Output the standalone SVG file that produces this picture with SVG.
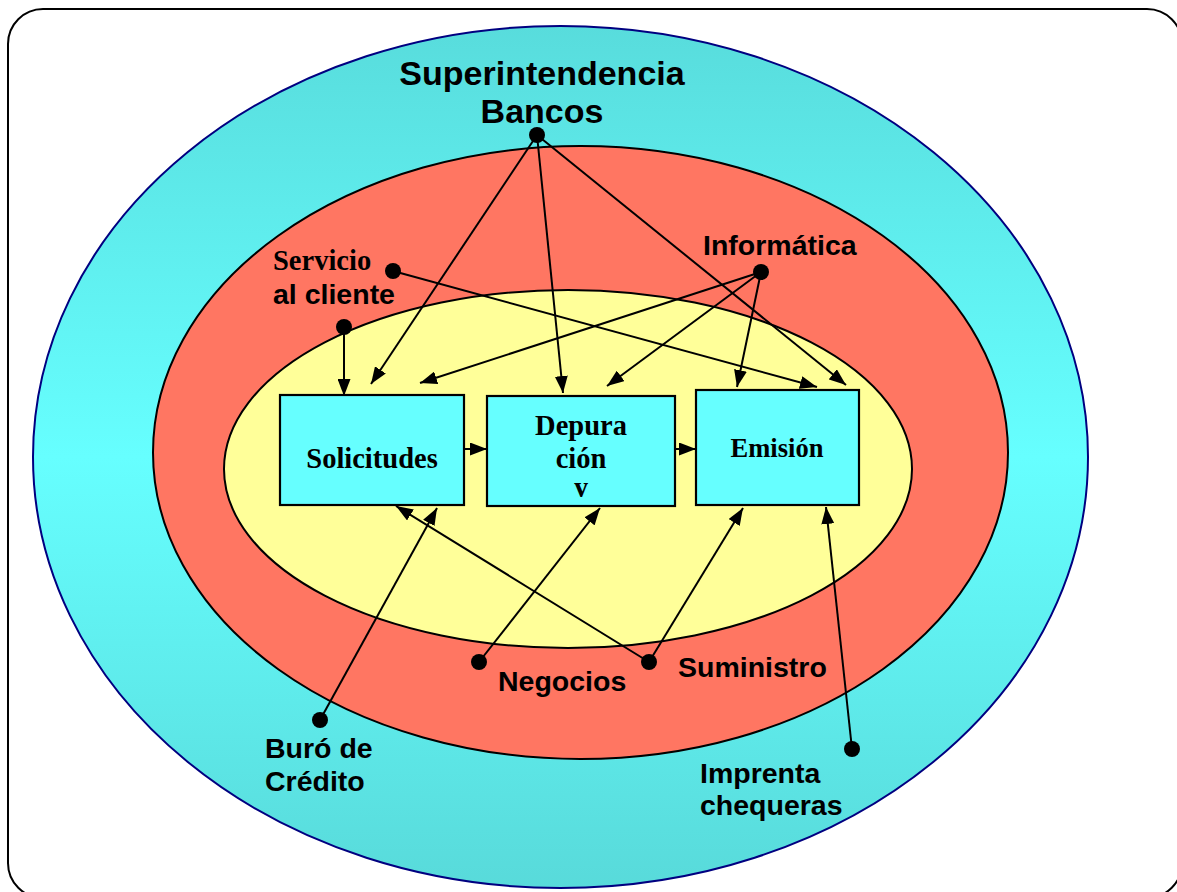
<svg xmlns="http://www.w3.org/2000/svg" width="1177" height="892" viewBox="0 0 1177 892">
<style>
.lbl{font-family:"Liberation Sans",Arial,sans-serif;font-weight:bold;font-size:28.5px;fill:#000}
.big{font-family:"Liberation Sans",Arial,sans-serif;font-weight:bold;font-size:34px;fill:#000}
.ser{font-family:"Liberation Serif","Times New Roman",serif;font-weight:bold;font-size:28.5px;fill:#000}
.box{fill:#66ffff;stroke:#000;stroke-width:2.2}
.dot{fill:#000}
.con line{stroke:#000;stroke-width:2;marker-end:url(#ah)}
</style>
<defs>
<linearGradient id="cy" x1="0" y1="0" x2="0" y2="1">
<stop offset="0" stop-color="#58dcdc"/>
<stop offset="0.5" stop-color="#66ffff"/>
<stop offset="1" stop-color="#58dada"/>
</linearGradient>
<marker id="ah" viewBox="0 0 17 13" refX="17" refY="6.5" markerWidth="17" markerHeight="13" markerUnits="userSpaceOnUse" orient="auto">
<path d="M0,0 L17,6.5 L0,13 Z" fill="#000"/>
</marker>
<clipPath id="clipdep"><rect x="487" y="396" width="188" height="101"/></clipPath>
</defs>
<rect x="8" y="9" width="1174" height="889" rx="35" ry="35" fill="#fff" stroke="#000" stroke-width="2"/>
<g id="superintendencia-ring">
<ellipse cx="560.5" cy="457" rx="527.5" ry="431" fill="url(#cy)" stroke="#000080" stroke-width="2"/>
</g>
<g id="red-ring">
<ellipse cx="580.5" cy="452.5" rx="427.5" ry="306.5" fill="#ff7662" stroke="#000" stroke-width="2"/>
</g>
<g id="yellow-ring">
<ellipse cx="568" cy="469" rx="344" ry="179" fill="#ffff99" stroke="#000" stroke-width="2"/>
</g>
<g id="connectors" class="con">
<line x1="537" y1="135" x2="371" y2="384"/>
<line x1="537" y1="135" x2="563" y2="393"/>
<line x1="537" y1="135" x2="846" y2="385"/>
<line x1="393" y1="271" x2="817" y2="387"/>
<line x1="344" y1="327" x2="344" y2="396"/>
<line x1="761" y1="272" x2="420" y2="383"/>
<line x1="761" y1="272" x2="607" y2="386"/>
<line x1="761" y1="272" x2="737" y2="387"/>
<line x1="464" y1="449" x2="487" y2="449"/>
<line x1="675" y1="449" x2="696" y2="449"/>
<line x1="320" y1="720" x2="437" y2="508"/>
<line x1="479" y1="662" x2="600" y2="508"/>
<line x1="649" y1="662" x2="396" y2="506"/>
<line x1="649" y1="662" x2="743" y2="508"/>
<line x1="852" y1="749" x2="826" y2="507"/>
</g>
<g id="solicitudes">
<rect class="box" x="280" y="395" width="184" height="110"/>
<text class="ser" x="372" y="468" text-anchor="middle">Solicitudes</text>
</g>
<g id="depuracion">
<rect class="box" x="487" y="396" width="188" height="110"/>
<text class="ser" x="581" y="435" text-anchor="middle">Depura</text>
<text class="ser" x="581" y="468" text-anchor="middle">ción</text>
<text class="ser" x="581" y="497" text-anchor="middle" clip-path="url(#clipdep)">y</text>
</g>
<g id="emision">
<rect class="box" x="696" y="390" width="163" height="115"/>
<text class="ser" x="777" y="457" text-anchor="middle" style="font-size:26.5px">Emisión</text>
</g>
<g id="superintendencia-bancos">
<text class="big" x="542" y="85" text-anchor="middle">Superintendencia</text>
<text class="big" x="542" y="123" text-anchor="middle">Bancos</text>
<circle class="dot" cx="537" cy="135" r="8"/>
</g>
<g id="servicio-cliente">
<text class="ser" x="273" y="270">Servicio</text>
<text class="lbl" x="273" y="304">al cliente</text>
<circle class="dot" cx="393" cy="271" r="8"/>
<circle class="dot" cx="344" cy="327" r="8"/>
</g>
<g id="informatica">
<text class="lbl" x="703" y="255">Informática</text>
<circle class="dot" cx="761" cy="272" r="8"/>
</g>
<g id="negocios">
<text class="lbl" x="498" y="691">Negocios</text>
<circle class="dot" cx="479" cy="662" r="8"/>
</g>
<g id="suministro">
<text class="lbl" x="678" y="677">Suministro</text>
<circle class="dot" cx="649" cy="662" r="8"/>
</g>
<g id="buro-credito">
<text class="lbl" x="265" y="758">Buró de</text>
<text class="lbl" x="265" y="791">Crédito</text>
<circle class="dot" cx="320" cy="720" r="8"/>
</g>
<g id="imprenta-chequeras">
<text class="lbl" x="700" y="783">Imprenta</text>
<text class="lbl" x="700" y="815">chequeras</text>
<circle class="dot" cx="852" cy="749" r="8"/>
</g>
</svg>
